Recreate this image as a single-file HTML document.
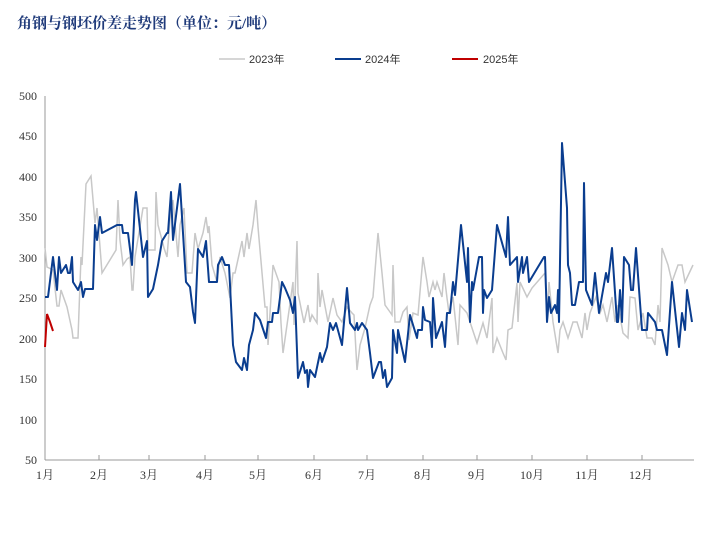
<!DOCTYPE html>
<html><head><meta charset="utf-8"><style>
html,body{margin:0;padding:0;background:#fff;width:718px;height:542px;overflow:hidden}
</style></head><body>
<svg width="718" height="542" xmlns="http://www.w3.org/2000/svg" font-family="'Liberation Sans','Noto Sans CJK SC',sans-serif">
<text x="17" y="28" font-family="'Liberation Serif','Noto Serif CJK SC',serif" font-weight="bold" font-size="15" fill="#1f3a7a">角钢与钢坯价差走势图（单位：元/吨）</text>
<g font-size="11" fill="#333">
<line x1="219" y1="59" x2="245" y2="59" stroke="#c8c8c8" stroke-width="1.5"/><text x="249" y="63">2023年</text>
<line x1="335" y1="59" x2="361" y2="59" stroke="#0a3d8f" stroke-width="2"/><text x="365" y="63">2024年</text>
<line x1="452" y1="59" x2="478" y2="59" stroke="#c00000" stroke-width="2"/><text x="483" y="63">2025年</text>
</g>
<g font-size="12" fill="#333" text-anchor="end" font-family="'Liberation Serif','Noto Serif CJK SC',serif">
<text x="37" y="100">500</text><text x="37" y="140">450</text><text x="37" y="181">400</text><text x="37" y="221">350</text><text x="37" y="262">300</text><text x="37" y="302">250</text><text x="37" y="343">200</text><text x="37" y="383">150</text><text x="37" y="424">100</text><text x="37" y="464">50</text>
</g>
<line x1="45" y1="96" x2="45" y2="460" stroke="#999"/>
<line x1="45" y1="460" x2="694" y2="460" stroke="#999"/>
<g stroke="#999"><line x1="99" y1="460" x2="99" y2="455"/><line x1="149" y1="460" x2="149" y2="455"/><line x1="205" y1="460" x2="205" y2="455"/><line x1="258" y1="460" x2="258" y2="455"/><line x1="314" y1="460" x2="314" y2="455"/><line x1="367" y1="460" x2="367" y2="455"/><line x1="423" y1="460" x2="423" y2="455"/><line x1="477" y1="460" x2="477" y2="455"/><line x1="532" y1="460" x2="532" y2="455"/><line x1="587" y1="460" x2="587" y2="455"/><line x1="642" y1="460" x2="642" y2="455"/></g>
<g font-size="12" fill="#333" text-anchor="middle" font-family="'Liberation Serif','Noto Serif CJK SC',serif">
<text x="45" y="479">1月</text><text x="99" y="479">2月</text><text x="149" y="479">3月</text><text x="205" y="479">4月</text><text x="258" y="479">5月</text><text x="314" y="479">6月</text><text x="367" y="479">7月</text><text x="423" y="479">8月</text><text x="477" y="479">9月</text><text x="532" y="479">10月</text><text x="587" y="479">11月</text><text x="641" y="479">12月</text>
</g>
<polyline fill="none" stroke="#c8c8c8" stroke-width="1.5" points="45,248 47,267 53,270 57,306 59,306 61,290 67,307 72,330 73,338 78,338 81,257 82,265 86,184 91,176 95,223 97,208 102,273 116,250 118,200 120,240 123,265 127,259 130,257 132,290 133,290 135,257 143,208 147,208 148,250 155,250 156,192 158,225 162,240 164,248 167,257 171,208 173,200 178,257 180,225 184,208 187,273 192,273 195,233 198,249 203,233 206,217 208,233 209,226 212,265 217,282 220,257 225,273 230,298 233,273 235,273 242,241 244,257 247,233 249,249 253,225 256,200 258,227 265,307 267,307 268,345 273,265 279,282 281,323 283,353 287,325 293,282 294,325 297,241 298,293 304,323 308,305 310,322 312,315 317,323 318,273 320,307 322,290 328,322 333,298 337,315 342,322 347,307 352,313 354,315 357,370 360,345 365,328 370,305 373,297 378,233 382,273 385,305 390,312 392,315 393,265 395,322 400,322 403,312 407,307 409,340 413,313 418,315 423,257 427,282 429,297 433,282 435,290 437,282 442,297 444,273 447,298 449,313 453,297 458,345 460,305 467,313 470,322 477,343 483,323 487,338 492,298 493,353 497,338 503,353 506,360 508,330 512,328 517,283 518,322 520,282 527,297 532,288 545,273 547,318 549,282 553,322 558,353 560,330 563,322 568,338 573,322 577,322 582,338 585,313 587,330 590,313 596,297 600,313 603,305 607,322 612,297 615,322 618,305 623,333 628,338 630,297 635,298 638,330 643,313 647,338 652,338 655,345 658,305 660,322 662,248 668,265 672,282 678,265 682,265 685,282 693,265"/>
<polyline fill="none" stroke="#0a3d8f" stroke-width="2" stroke-linejoin="round" points="45,297 48,297 53,257 57,290 59,257 61,273 66,265 68,273 70,273 72,257 73,282 78,290 81,282 83,297 85,289 93,289 95,225 97,240 100,217 102,233 117,225 122,225 123,233 128,233 132,265 135,200 136,192 143,257 147,241 148,297 153,289 158,265 162,241 167,233 168,233 171,192 173,240 180,184 186,282 190,287 193,312 195,323 198,249 203,257 206,241 209,282 217,282 218,265 222,257 225,265 229,265 233,345 236,362 242,370 244,358 247,370 249,345 253,330 255,313 260,320 266,338 268,322 272,322 273,313 278,313 282,282 285,288 290,300 293,313 295,297 298,378 303,362 305,373 307,370 308,387 310,370 315,377 320,353 322,362 327,347 330,323 333,330 336,323 342,345 347,288 350,323 355,330 357,323 358,330 362,323 367,330 370,353 373,378 379,362 381,362 383,378 385,370 387,387 392,378 393,330 397,353 398,330 405,362 410,315 417,338 418,330 422,330 423,307 425,320 430,322 432,347 433,298 436,338 442,322 445,347 447,313 450,313 453,282 455,295 461,225 467,282 468,248 470,322 472,282 473,290 479,257 482,257 483,313 484,290 487,298 492,290 497,225 506,257 508,217 510,265 517,257 518,282 522,257 523,273 527,257 529,282 544,257 545,257 547,322 549,297 551,313 555,305 557,313 558,290 559,322 562,143 567,208 568,265 570,273 572,305 575,305 579,282 583,282 584,183 586,290 592,305 595,273 599,313 606,273 608,282 612,248 617,322 618,322 620,290 622,322 624,257 629,265 631,290 633,290 636,248 642,330 647,330 648,313 655,322 657,330 662,330 667,355 672,282 679,347 682,313 685,330 687,290 692,322"/>
<polyline fill="none" stroke="#c00000" stroke-width="2" points="45,347 47,314 50,322 53,331"/>
</svg>
</body></html>
